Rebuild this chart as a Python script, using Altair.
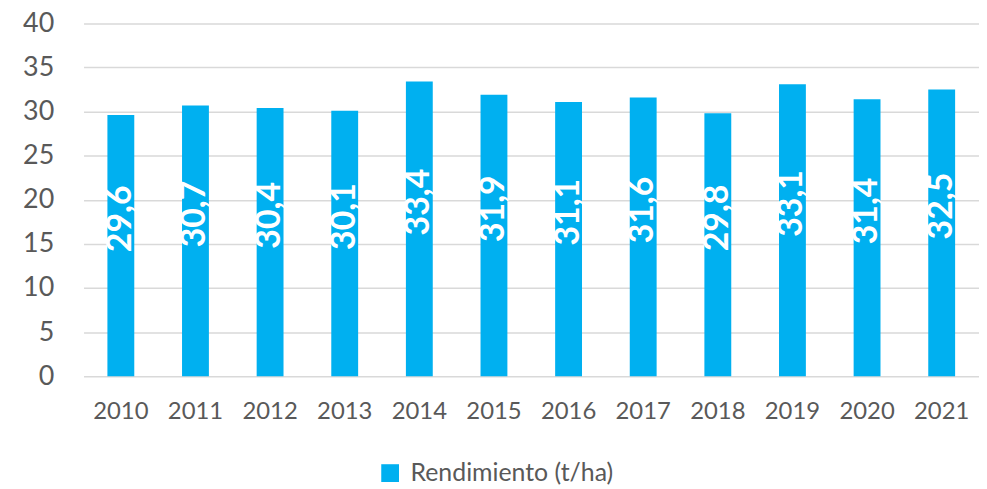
import altair as alt
import pandas as pd

years = ["2010", "2011", "2012", "2013", "2014", "2015", "2016", "2017", "2018", "2019", "2020", "2021"]
values = [29.6, 30.7, 30.4, 30.1, 33.4, 31.9, 31.1, 31.6, 29.8, 33.1, 31.4, 32.5]
labels = ["29,6", "30,7", "30,4", "30,1", "33,4", "31,9", "31,1", "31,6", "29,8", "33,1", "31,4", "32,5"]
series = "Rendimiento (t/ha)"

df = pd.DataFrame({"year": years, "value": values, "label": labels, "series": series})

FONT = "Lato"
GREY = "#595959"

x = alt.X("year:N", sort=years, title=None,
          scale=alt.Scale(paddingInner=0.64, paddingOuter=0.32),
          axis=alt.Axis(labelAngle=0, labelFontSize=24, labelColor=GREY, labelFont=FONT,
                        ticks=False, domain=False, labelPadding=24))

bars = alt.Chart(df).mark_bar(color="#00B0F0").encode(
    x=x,
    y=alt.Y("value:Q", title=None,
            scale=alt.Scale(domain=[0, 40]),
            axis=alt.Axis(values=[0, 5, 10, 15, 20, 25, 30, 35, 40], labelFontSize=27,
                          labelColor=GREY, labelFont=FONT, ticks=False, domain=False,
                          gridColor="#D9D9D9", gridWidth=1.5, labelPadding=30)),
    color=alt.Color("series:N", scale=alt.Scale(range=["#00B0F0"]),
                    legend=alt.Legend(title=None, orient="none", legendX=296, legendY=440,
                                      symbolType="square", symbolSize=320, symbolStrokeWidth=0,
                                      labelFontSize=25, labelColor=GREY, labelFont=FONT,
                                      labelLimit=400, labelOffset=8)),
)

text = alt.Chart(df).transform_calculate(mid="datum.value / 2").mark_text(
    angle=270, color="white", fontWeight="bold", fontSize=34, font=FONT,
    align="center", baseline="middle", dx=27
).encode(
    x=alt.X("year:N", sort=years),
    y=alt.Y("mid:Q"),
    text="label:N",
)

chart = (bars + text).properties(
    width=901, height=355,
    autosize=alt.AutoSizeParams(type="none"),
    padding={"left": 76, "top": 14, "right": 0, "bottom": 110},
).configure_view(stroke=None)

chart.save("out.html", embed_options={"renderer": "svg", "actions": False})
